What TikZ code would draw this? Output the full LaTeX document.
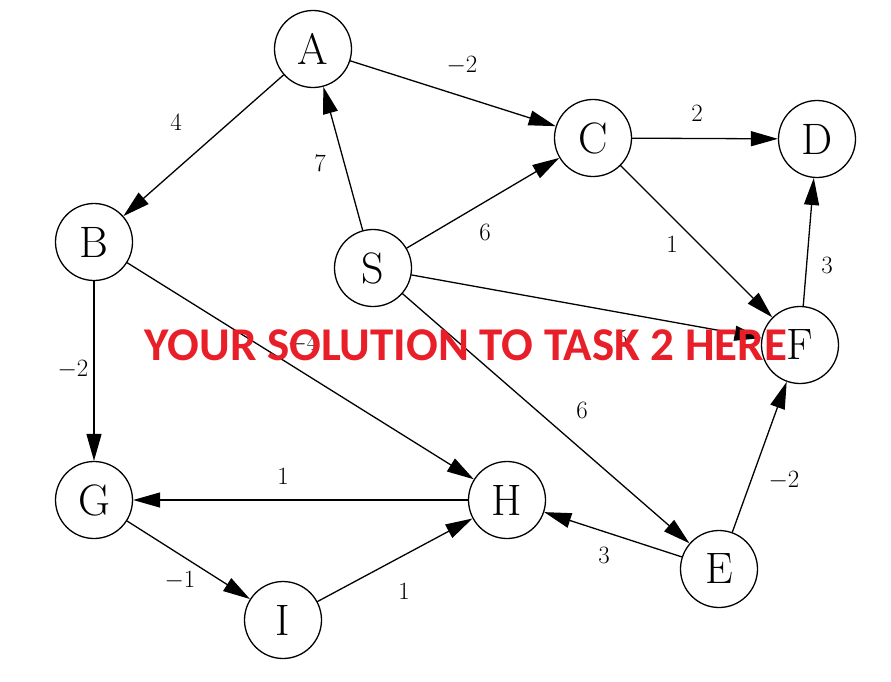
\documentclass[tikz,border=0pt]{standalone}
\usepackage{fontspec}
\newfontfamily\notefont{Carlito}
\usetikzlibrary{arrows.meta}
\tikzset{
  vertex/.style={draw,circle,line width=1.3pt,minimum size=77pt,inner sep=0pt,font=\fontsize{44}{48}\selectfont},
  edge/.style={->,line width=1.3pt},
  weight/.style={font=\fontsize{33}{36}\selectfont,inner sep=0pt}
}
\begin{document}
\begin{tikzpicture}[x=1pt,y=-1pt,>={Triangle[length=27pt,width=15pt]},line cap=round,line join=round]
	\useasboundingbox (0,0) rectangle (891,681);
	% vertices
	\node[vertex] (A) at (313,49) {A};
	\node[vertex] (C) at (593,138) {C};
	\node[vertex] (D) at (817,139) {D};
	\node[vertex] (B) at (94,242) {B};
	\node[vertex] (S) at (373,268) {S};
	\node[vertex] (F) at (800,345) {F};
	\node[vertex] (G) at (94,500) {G};
	\node[vertex] (H) at (507,500) {H};
	\node[vertex] (E) at (719,569) {E};
	\node[vertex] (I) at (283,620) {I};
	% edges
	\draw[edge] (A) -- (C);
	\draw[edge] (A) -- (B);
	\draw[edge] (S) -- (A);
	\draw[edge] (S) -- (C);
	\draw[edge] (C) -- (D);
	\draw[edge] (C) -- (F);
	\draw[edge] (F) -- (D);
	\draw[edge] (S) -- (F);
	\draw[edge] (B) -- (H);
	\draw[edge] (B) -- (G);
	\draw[edge] (S) -- (E);
	\draw[edge] (E) -- (F);
	\draw[edge] (H) -- (G);
	\draw[edge] (E) -- (H);
	\draw[edge] (G) -- (I);
	\draw[edge] (I) -- (H);
	% weights
	\node[weight] (wAC) at (462,66) {$-2$};
	\node[weight] (wAB) at (176,122) {$4$};
	\node[weight] (wSA) at (320,163) {$7$};
	\node[weight] (wSC) at (485,232) {$6$};
	\node[weight] (wCD) at (697,113) {$2$};
	\node[weight] (wCF) at (672,244) {$1$};
	\node[weight] (wFD) at (827,265) {$3$};
	\node[weight] (wSF) at (622,338) {$5$};
	\node[weight] (wBH) at (303,344) {$-4$};
	\node[weight] (wBG) at (73,370) {$-2$};
	\node[weight] (wSE) at (582,410) {$6$};
	\node[weight] (wEF) at (784,481) {$-2$};
	\node[weight] (wHG) at (283,476) {$1$};
	\node[weight] (wEH) at (604,555) {$3$};
	\node[weight] (wGI) at (180,581) {$-1$};
	\node[weight] (wIH) at (404,591) {$1$};
	% overlay
	\node[text={rgb,255:red,232;green,30;blue,40},font=\notefont\bfseries\fontsize{47}{51}\selectfont,inner sep=0pt] (note) at (466,345) {YOUR SOLUTION TO TASK 2 HERE};
\end{tikzpicture}
\end{document}
